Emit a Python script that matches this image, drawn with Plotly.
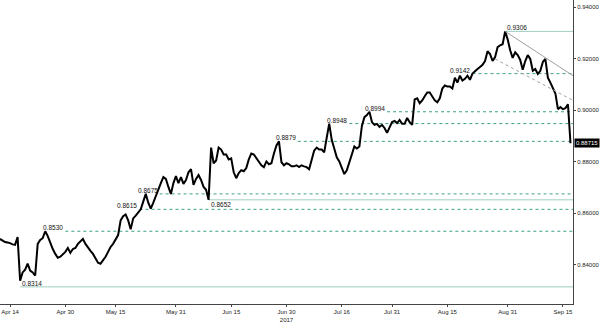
import pandas as pd
import plotly.graph_objects as go

# EUR/GBP, two readings per business day (00:00 and 12:00)
apr = [0.8500, 0.8494, 0.8488, 0.8486, 0.8484, 0.8479, 0.8477, 0.8507, 0.8338, 0.8370,
       0.8381, 0.8404, 0.8377, 0.8370, 0.8358, 0.8481, 0.8496, 0.8503, 0.8530, 0.8511,
       0.8484, 0.8461, 0.8442, 0.8427, 0.8431, 0.8439]
may = [0.8450, 0.8465, 0.8446, 0.8461, 0.8465, 0.8481, 0.8492, 0.8500, 0.8481, 0.8465,
       0.8454, 0.8442, 0.8423, 0.8408, 0.8404, 0.8416, 0.8431, 0.8450, 0.8469, 0.8481,
       0.8500, 0.8515, 0.8572, 0.8588, 0.8595, 0.8572, 0.8538, 0.8580, 0.8591, 0.8603,
       0.8615, 0.8645, 0.8675, 0.8641, 0.8618, 0.8641, 0.8668, 0.8687, 0.8717, 0.8740,
       0.8733, 0.8702, 0.8675, 0.8717, 0.8744, 0.8717]
jun = [0.8740, 0.8714, 0.8729, 0.8759, 0.8771, 0.8710, 0.8733, 0.8748, 0.8729, 0.8702,
       0.8691, 0.8652, 0.8855, 0.8794, 0.8805, 0.8855, 0.8847, 0.8828, 0.8828, 0.8809,
       0.8813, 0.8759, 0.8736, 0.8756, 0.8767, 0.8763, 0.8775, 0.8809, 0.8832, 0.8828,
       0.8813, 0.8798, 0.8786, 0.8779, 0.8801, 0.8790, 0.8794, 0.8832, 0.8863, 0.8879,
       0.8798, 0.8786, 0.8794, 0.8790]
jul = [0.8782, 0.8782, 0.8786, 0.8779, 0.8786, 0.8782, 0.8779, 0.8771, 0.8813, 0.8843,
       0.8855, 0.8847, 0.8847, 0.8836, 0.8893, 0.8948, 0.8885, 0.8855, 0.8817, 0.8801,
       0.8779, 0.8752, 0.8767, 0.8798, 0.8832, 0.8859, 0.8851, 0.8859, 0.8939, 0.8973,
       0.8981, 0.8994, 0.8954, 0.8943, 0.8947, 0.8935, 0.8943, 0.8931, 0.8912, 0.8931,
       0.8954, 0.8958]
aug = [0.8950, 0.8962, 0.8947, 0.8947, 0.8970, 0.8954, 0.8943, 0.9042, 0.9046, 0.9027,
       0.9038, 0.9054, 0.9069, 0.9069, 0.9054, 0.9038, 0.9031, 0.9046, 0.9084, 0.9096,
       0.9092, 0.9092, 0.9084, 0.9126, 0.9107, 0.9134, 0.9115, 0.9122, 0.9134, 0.9118,
       0.9142, 0.9153, 0.9160, 0.9168, 0.9176, 0.9191, 0.9229, 0.9218, 0.9191, 0.9206,
       0.9245, 0.9252, 0.9256, 0.9306, 0.9275, 0.9233]
sep = [0.9203, 0.9225, 0.9214, 0.9195, 0.9157, 0.9191, 0.9214, 0.9199, 0.9153, 0.9160,
       0.9141, 0.9153, 0.9187, 0.9199, 0.9126, 0.9107, 0.9088, 0.9065, 0.9004, 0.9012,
       0.9004, 0.9008, 0.9023, 0.88715]

# support / resistance levels: value, line start, style
level_values = [0.8314, 0.8530, 0.8615, 0.8652, 0.8675, 0.8879, 0.8948, 0.8994, 0.9142, 0.9306]
level_starts = ["2017-04-18 00:00", "2017-05-01 00:00", "2017-05-19 18:00", "2017-06-08 12:00",
                "2017-05-25 18:00", "2017-07-04 06:00", "2017-07-18 12:00", "2017-07-28 00:00",
                "2017-08-22 00:00", "2017-08-30 12:00"]
level_kind = ["solid", "dash", "dash", "solid", "dash", "dash", "dash", "dash", "dash", "solid"]
level_labels = ["0.8314", "0.8530", "0.8615", "0.8652", "0.8675", "0.8879", "0.8948", "0.8994", "0.9142", "0.9306"]

# trend lines (start date, start value, end date, end value)
trend_solid = ("2017-08-30 12:00", 0.9306, "2017-09-19 00:00", 0.9134)
trend_dash = ("2017-08-28 12:00", 0.9199, "2017-09-19 00:00", 0.9038)

tick_dates = ["2017-04-14", "2017-05-01", "2017-05-15", "2017-05-31", "2017-06-15", "2017-06-30",
              "2017-07-17", "2017-07-31", "2017-08-15", "2017-08-31", "2017-09-15"]
tick_labels = ["Apr 14", "Apr 30", "May 15", "May 31", "Jun 15", "Jun 30<br>2017",
               "Jul 16", "Jul 31", "Aug 15", "Aug 31", "Sep 15"]
y_ticks = [0.84, 0.86, 0.88, 0.90, 0.92, 0.94]
last_price = 0.88715

values = apr + may + jun + jul + aug + sep
days = pd.bdate_range("2017-04-12", "2017-09-18")
times = []
for d in days:
    times.append(d)
    times.append(d + pd.Timedelta(hours=12))

END = "2017-09-19 00:00"
FONT = "Liberation Sans"
DASH_C = "#3f9f88"
SOLID_C = "#9fcdc0"

fig = go.Figure()
fig.add_trace(go.Scatter(x=times, y=values, mode="lines",
                         line=dict(color="black", width=2), hoverinfo="skip"))

for v, s, k, lab in zip(level_values, level_starts, level_kind, level_labels):
    if k == "dash":
        fig.add_shape(type="line", xref="x", yref="y", x0=s, x1=END, y0=v, y1=v,
                      line=dict(color=DASH_C, width=1, dash="3px,3px"), layer="below")
        fig.add_annotation(x=s, y=v, text=lab, showarrow=False, xanchor="right",
                           yanchor="bottom", yshift=-2, font=dict(family=FONT, size=6.5, color="#111"))
    else:
        fig.add_shape(type="line", xref="x", yref="y", x0=s, x1=END, y0=v, y1=v,
                      line=dict(color=SOLID_C, width=1), layer="below")
        below = lab == "0.8652"
        fig.add_annotation(x=s, y=v, text=lab, showarrow=False, xanchor="left",
                           yanchor="top" if below else "bottom",
                           yshift=1 if below else -2,
                           font=dict(family=FONT, size=6.5, color="#111"))

for t, col, dash in [(trend_solid, "#a0a0a0", "solid"), (trend_dash, "#a0a0a0", "3px,3px")]:
    fig.add_shape(type="line", xref="x", yref="y", x0=t[0], y0=t[1], x1=t[2], y1=t[3],
                  line=dict(color=col, width=1, dash=dash))

fig.add_annotation(xref="paper", x=1, y=last_price, text=str(last_price), showarrow=False,
                   xanchor="left", xshift=1, bgcolor="black", borderpad=1,
                   font=dict(family=FONT, size=6, color="white"))

fig.update_layout(
    width=600, height=323, margin=dict(l=0, r=25, t=0, b=14),
    paper_bgcolor="white", plot_bgcolor="white", showlegend=False,
    font=dict(family=FONT, size=6, color="#222"),
)
fig.update_xaxes(range=["2017-04-12 00:00", END],
                 rangebreaks=[dict(bounds=["sat", "mon"])],
                 tickmode="array", tickvals=tick_dates, ticktext=tick_labels,
                 showline=True, linecolor="#444", linewidth=1, ticks="outside",
                 ticklen=2, tickcolor="#444", showgrid=False, zeroline=False,
                 tickfont=dict(family=FONT, size=6, color="#222"))
fig.update_yaxes(range=[0.82475, 0.94279], side="right", tickvals=y_ticks,
                 tickformat=".5f", showline=True, linecolor="#444", linewidth=1,
                 ticks="outside", ticklen=2, tickcolor="#444", showgrid=False,
                 zeroline=False, tickfont=dict(family=FONT, size=6, color="#222"))

fig.write_html("out.html")
